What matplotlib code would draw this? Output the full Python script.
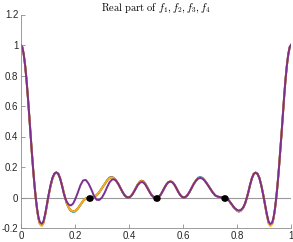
import matplotlib.pyplot as plt
from matplotlib.ticker import FormatStrFormatter

plt.rcParams['font.family'] = ['Liberation Sans', 'DejaVu Sans']
plt.rcParams['mathtext.fontset'] = 'cm'
plt.rcParams['axes.unicode_minus'] = False

# sample positions (shared by all four curves)
x = [0, .005, .01, .015, .02, .025, .03, .035, .04, .045,
     .05, .055, .06, .065, .07, .077, .083, .09, .097, .103,
     .11, .117, .124, .131, .138, .145, .152, .158, .164, .17,
     .177, .185, .193, .2, .21, .22, .23, .24, .25, .26,
     .27, .28, .29, .3, .31, .32, .328, .336, .344, .352,
     .36, .368, .376, .384, .391, .397, .404, .411, .418, .425,
     .432, .44, .447, .454, .461, .468, .475, .482, .489, .495,
     .5,
     .505, .511, .518, .525, .532, .539, .546, .553, .56, .567,
     .574, .581, .589, .596, .603, .609, .616, .624, .632, .64,
     .648, .656, .664, .672, .68, .69, .7, .71, .72, .73,
     .74, .75, .76, .77, .78, .79, .8, .807, .815, .823,
     .83, .836, .842, .848, .855, .862, .869, .876, .883, .89,
     .897, .903, .91, .917, .923, .93, .935, .94, .945, .95,
     .955, .96, .965, .97, .975, .98, .985, .99, .995, 1.0]

f1 = [1.000, .985, .940, .870, .780, .670, .550, .420, .300, .185,
      .080, -.010, -.085, -.140, -.172, -.182, -.165, -.110, -.040, .020,
      .080, .128, .155, .163, .155, .125, .080, .035, -.005, -.040,
      -.068, -.088, -.094, -.092, -.074, -.049, -.022, -.006, .000, .002,
      .006, .015, .035, .062, .090, .115, .131, .135, .128, .112,
      .090, .063, .036, .014, .003, .000, .004, .017, .038, .062,
      .085, .103, .110, .104, .088, .066, .042, .020, .006, .001,
      .000,
      .001, .006, .020, .042, .066, .086, .100, .106, .102, .088,
      .066, .042, .018, .005, .000, .003, .014, .036, .063, .090,
      .112, .130, .134, .129, .113, .088, .060, .033, .013, .005,
      .002, .000, -.005, -.020, -.045, -.070, -.087, -.093, -.086, -.068,
      -.040, -.005, .035, .080, .125, .155, .163, .155, .128, .080,
      .020, -.040, -.110, -.165, -.182, -.172, -.140, -.085, -.010, .080,
      .185, .300, .420, .550, .670, .780, .870, .940, .985, 1.000]

f2 = [1.000, .985, .940, .870, .780, .670, .550, .420, .300, .185,
      .080, -.010, -.085, -.140, -.172, -.182, -.165, -.110, -.040, .020,
      .080, .128, .155, .163, .155, .125, .080, .035, -.005, -.040,
      -.068, -.085, -.090, -.088, -.072, -.048, -.022, -.006, .000, .002,
      .006, .015, .035, .062, .090, .115, .128, .132, .127, .112,
      .090, .063, .036, .014, .003, .000, .004, .017, .038, .062,
      .085, .103, .110, .104, .088, .066, .042, .020, .006, .001,
      .000,
      .001, .006, .020, .042, .066, .086, .100, .106, .102, .088,
      .066, .042, .018, .005, .000, .003, .014, .036, .063, .090,
      .112, .126, .130, .126, .113, .088, .060, .033, .013, .005,
      .002, .000, -.005, -.020, -.045, -.070, -.085, -.090, -.084, -.068,
      -.040, -.005, .035, .080, .125, .155, .163, .155, .128, .080,
      .020, -.040, -.110, -.165, -.182, -.172, -.140, -.085, -.010, .080,
      .185, .300, .420, .550, .670, .780, .870, .940, .985, 1.000]

f3 = [1.000, .985, .940, .870, .780, .670, .550, .420, .300, .185,
      .080, -.010, -.086, -.142, -.176, -.187, -.169, -.112, -.041, .020,
      .080, .128, .155, .163, .155, .125, .080, .035, -.005, -.040,
      -.068, -.086, -.091, -.089, -.072, -.048, -.022, -.006, .000, .002,
      .006, .015, .035, .062, .090, .115, .128, .132, .127, .112,
      .090, .063, .036, .014, .003, .000, .004, .017, .037, .060,
      .083, .100, .107, .101, .086, .065, .041, .020, .006, .001,
      .000,
      .001, .006, .020, .042, .066, .086, .100, .106, .102, .088,
      .066, .042, .018, .005, .000, .003, .014, .036, .063, .090,
      .112, .126, .130, .126, .113, .088, .060, .033, .013, .005,
      .002, .000, -.005, -.020, -.045, -.071, -.087, -.092, -.086, -.069,
      -.040, -.005, .035, .080, .125, .155, .163, .155, .128, .080,
      .020, -.041, -.112, -.169, -.187, -.176, -.142, -.086, -.010, .080,
      .185, .300, .420, .550, .670, .780, .870, .940, .985, 1.000]

f4 = [1.000, .985, .940, .870, .780, .670, .550, .420, .300, .185,
      .080, -.008, -.080, -.132, -.162, -.172, -.158, -.105, -.035, .025,
      .085, .132, .158, .165, .156, .124, .077, .030, -.005, -.030,
      -.047, -.052, -.040, -.015, .030, .080, .112, .115, .092, .055,
      .012, -.015, -.016, .000, .032, .072, .100, .116, .120, .110,
      .090, .063, .036, .014, .003, .000, .004, .016, .036, .058,
      .080, .096, .102, .097, .083, .062, .040, .019, .006, .001,
      .000,
      .001, .006, .020, .042, .066, .087, .101, .104, .100, .087,
      .066, .042, .018, .005, .000, .003, .014, .036, .063, .089,
      .110, .124, .128, .124, .111, .087, .060, .033, .013, .005,
      .002, .000, -.005, -.019, -.043, -.067, -.081, -.086, -.080, -.065,
      -.038, -.004, .035, .080, .125, .155, .163, .155, .127, .078,
      .018, -.038, -.104, -.158, -.174, -.165, -.134, -.081, -.008, .080,
      .185, .300, .420, .550, .670, .780, .870, .940, .985, 1.000]

dot_x = [0.25, 0.5, 0.75]
dot_y = [0, 0, 0]

colors = ['#0072BD', '#D95319', '#EDB120', '#7E2F8E']

fig = plt.figure(figsize=(2.93, 2.42), dpi=100)
ax = fig.add_axes([21/293, 14/242, 270/293, 213.5/242])

ax.axhline(0, color='0.6', lw=0.8, zorder=1)
for f, c in zip([f1, f2, f3, f4], colors):
    ax.plot(x, f, color=c, lw=1.4, zorder=2)
# dots are a touch wider than tall in the original
ax.plot(dot_x, dot_y, 'o', color='k', ms=3.6, zorder=3)
ax.plot([d + 0.004 for d in dot_x], dot_y, 'o', color='k', ms=3.6, zorder=3)

ax.set_xlim(0, 1)
ax.set_ylim(-0.2, 1.2)
ax.set_xticks([0, 0.2, 0.4, 0.6, 0.8, 1])
ax.set_yticks([-0.2, 0, 0.2, 0.4, 0.6, 0.8, 1, 1.2])
ax.xaxis.set_major_formatter(FormatStrFormatter('%g'))
ax.yaxis.set_major_formatter(FormatStrFormatter('%g'))

for s in ['top', 'right']:
    ax.spines[s].set_visible(False)
for s in ['left', 'bottom']:
    ax.spines[s].set_color('0.55')
    ax.spines[s].set_linewidth(0.6)
ax.tick_params(direction='in', length=3, width=0.6, color='0.55',
               labelsize=7, labelcolor='0.15', pad=2)

ax.set_title(r'$\mathrm{Real\ part\ of}\ f_1, f_2, f_3, f_4$', fontsize=7.5, pad=3)

fig.savefig('out.png', dpi=100)
